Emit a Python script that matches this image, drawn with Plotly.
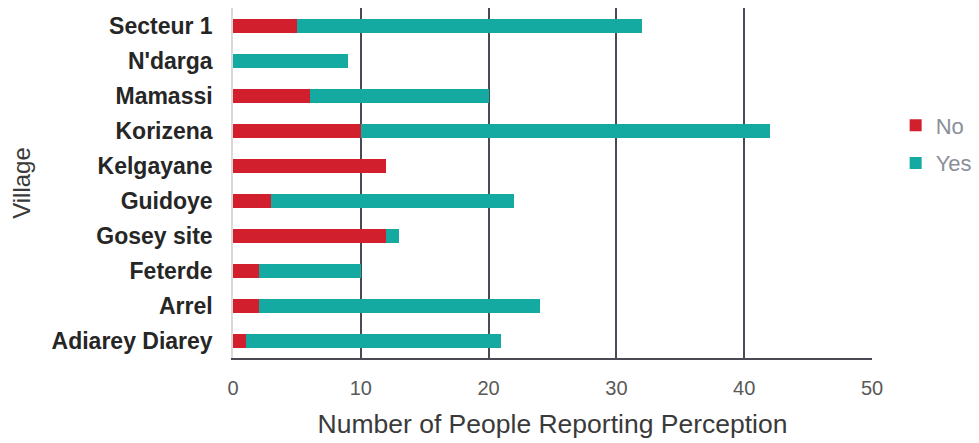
import plotly.graph_objects as go

villages = ["Secteur 1", "N'darga", "Mamassi", "Korizena", "Kelgayane",
            "Guidoye", "Gosey site", "Feterde", "Arrel", "Adiarey Diarey"]
no_counts = [5, 0, 6, 10, 12, 3, 12, 2, 2, 1]
yes_counts = [27, 9, 14, 32, 0, 19, 1, 8, 22, 20]
x_ticks = [0, 10, 20, 30, 40, 50]

RED = "#D21F2D"
TEAL = "#14A9A1"
FONT = "Liberation Sans, Arial, sans-serif"

fig = go.Figure()
fig.add_trace(go.Bar(y=villages, x=no_counts, name="No", orientation="h",
                     legendgroup="no",
                     marker=dict(color=RED, line=dict(width=0)), width=0.4))
fig.add_trace(go.Bar(y=villages, x=yes_counts, name="Yes", orientation="h",
                     legendgroup="yes",
                     marker=dict(color=TEAL, line=dict(width=0)), width=0.4))

fig.update_layout(
    width=979, height=443,
    barmode="stack",
    plot_bgcolor="white", paper_bgcolor="white",
    margin=dict(l=233, r=107, t=8, b=85, autoexpand=False),
    font=dict(family=FONT),
    legend=dict(x=1.037, y=0.61, xanchor="left", yanchor="middle",
                traceorder="grouped",
                font=dict(size=22, color="#8A8F99"),
                itemwidth=30, tracegroupgap=6),
    xaxis=dict(range=[0, 50], tickvals=x_ticks, showgrid=True,
               gridcolor="#4A4A55", gridwidth=1.5, zeroline=False,
               showline=True, linecolor="#4A4A55", linewidth=1.5,
               tickfont=dict(size=20, color="#595959"),
               ticklabelstandoff=11,
               title=dict(text="Number of People Reporting Perception",
                          font=dict(size=26.5, color="#3A3A3A"), standoff=17)),
    yaxis=dict(categoryorder="array", categoryarray=villages[::-1],
               showgrid=False, zeroline=False, showline=True,
               linecolor="#D9D9D9", linewidth=1.5,
               tickfont=dict(size=23, color="#262626", weight="bold"),
               ticklabelstandoff=14,
               title=dict(text="Village", font=dict(size=24, color="#3A3A3A"),
                          standoff=14)),
)

fig.write_html("out.html")
